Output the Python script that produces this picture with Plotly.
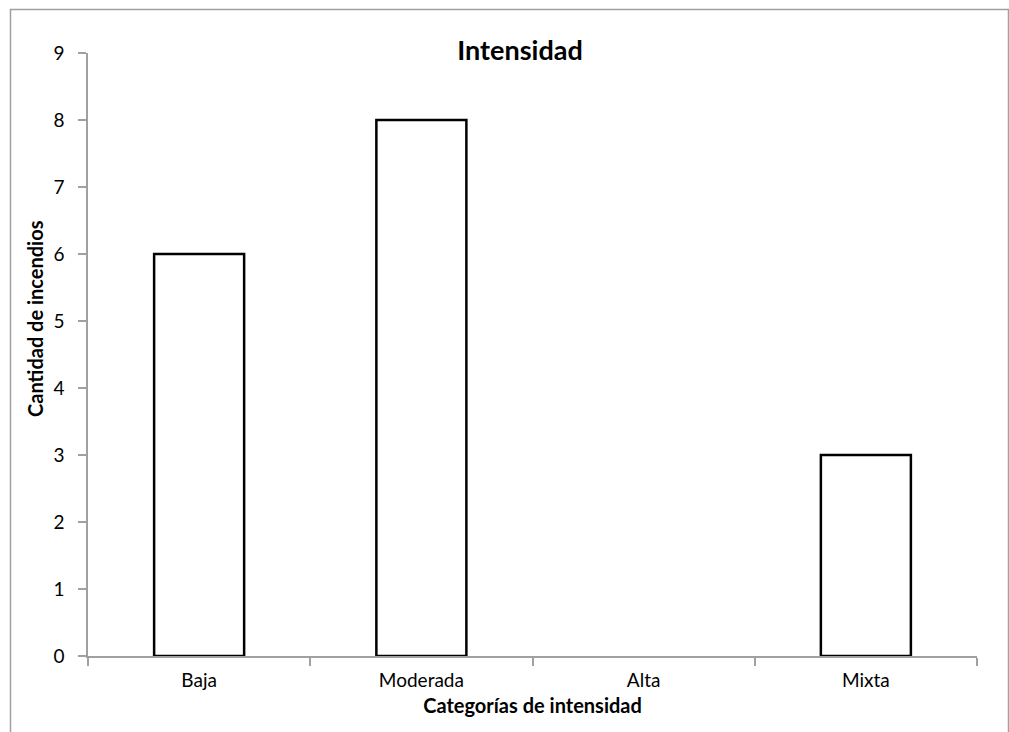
import plotly.graph_objects as go

# Fire counts by intensity category
categorias = ["Baja", "Moderada", "Alta", "Mixta"]
incendios = [6, 8, 0, 3]
y_ticks = list(range(0, 10))

W, H = 1009, 732
ML, MR, MT, MB = 88, 32, 53, 76
pw, ph = W - ML - MR, H - MT - MB

def px_x(p):
    return (p - ML) / pw

def px_y(p):
    return (H - MB - p) / ph

font_family = "Lato, 'Open Sans', sans-serif"
axis_grey = "#a0a0a0"

# empty categories get no visible outline
outline = ["black" if v > 0 else "rgba(0,0,0,0)" for v in incendios]

fig = go.Figure(
    go.Bar(
        x=categorias,
        y=incendios,
        marker=dict(color="white", line=dict(color=outline, width=2.5)),
        width=0.405,
    )
)

fig.update_layout(
    width=W,
    height=H,
    margin=dict(l=ML, r=MR, t=MT, b=MB),
    paper_bgcolor="white",
    plot_bgcolor="white",
    showlegend=False,
    font=dict(family=font_family, size=19, color="black"),
    title=dict(
        text="<b>Intensidad</b>",
        x=px_x(520),
        xanchor="center",
        xref="paper",
        y=1 - 51 / H,
        yanchor="middle",
        font=dict(size=27, family=font_family, color="black"),
    ),
    xaxis=dict(
        type="category",
        showline=True,
        linecolor=axis_grey,
        linewidth=1.5,
        ticks="outside",
        tickson="boundaries",
        ticklen=8,
        tickcolor=axis_grey,
        tickwidth=1.5,
        showgrid=False,
        tickfont=dict(size=19),
        ticklabelstandoff=6,
        title=dict(text="<b>Categorías de intensidad</b>", font=dict(size=20), standoff=9),
    ),
    yaxis=dict(
        range=[0, 9],
        tickvals=y_ticks,
        showline=True,
        linecolor=axis_grey,
        linewidth=1.5,
        ticks="outside",
        ticklen=8,
        tickcolor=axis_grey,
        tickwidth=1.5,
        showgrid=False,
        zeroline=False,
        tickfont=dict(size=19),
        ticklabelstandoff=10,
    ),
    annotations=[
        dict(
            text="<b>Cantidad de incendios</b>",
            textangle=-90,
            xref="paper",
            yref="paper",
            x=px_x(35),
            y=px_y(319),
            xanchor="center",
            yanchor="middle",
            showarrow=False,
            font=dict(size=20, family=font_family, color="black"),
        )
    ],
    shapes=[
        dict(
            type="rect",
            xref="paper",
            yref="paper",
            x0=px_x(10.5),
            x1=px_x(1008.5),
            y0=px_y(760),
            y1=px_y(9.5),
            line=dict(color=axis_grey, width=1.5),
            fillcolor="rgba(0,0,0,0)",
            layer="below",
        )
    ],
)

fig.write_html("out.html")
